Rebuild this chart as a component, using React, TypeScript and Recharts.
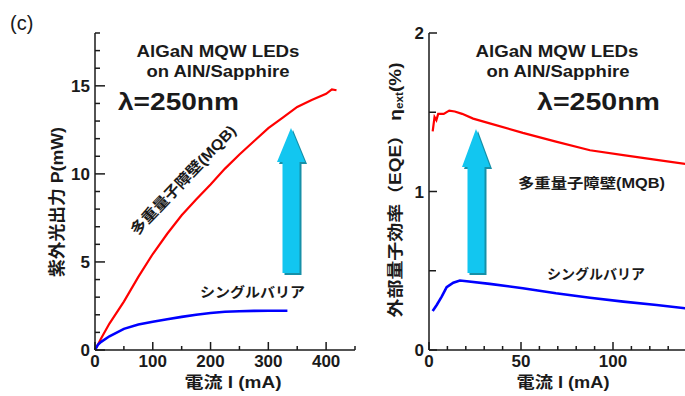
import React from 'react';
import { LineChart, Line, XAxis, YAxis } from 'recharts';

// light output vs current (mA, mW)
const lopMqbCurrent = [0, 5, 10, 25, 50, 75, 100, 125, 150, 175, 200, 225, 250, 275, 300, 325, 350, 375, 400, 410, 418];
const lopMqbPower = [0, 0.3, 0.62, 1.5, 2.75, 4.15, 5.45, 6.6, 7.65, 8.55, 9.4, 10.3, 11.1, 11.85, 12.6, 13.2, 13.8, 14.2, 14.55, 14.8, 14.75];
const lopSbCurrent = [0, 5, 10, 25, 50, 75, 100, 125, 150, 175, 200, 225, 250, 275, 300, 333];
const lopSbPower = [0, 0.3, 0.45, 0.78, 1.2, 1.45, 1.6, 1.75, 1.88, 2.0, 2.1, 2.17, 2.2, 2.22, 2.23, 2.23];

// external quantum efficiency vs current (mA, %)
const eqeMqbCurrent = [2, 3, 4, 5, 8, 11, 14, 18, 24, 33, 51, 69, 87.5, 105.6, 123.7, 142];
const eqeMqb = [1.38, 1.47, 1.45, 1.49, 1.49, 1.51, 1.505, 1.49, 1.46, 1.43, 1.37, 1.315, 1.26, 1.23, 1.2, 1.17];
const eqeSbCurrent = [2, 4.2, 6.9, 9.6, 13.2, 16.8, 20.5, 33, 51, 69, 87.5, 105.6, 123.7, 142];
const eqeSb = [0.246, 0.284, 0.337, 0.396, 0.425, 0.438, 0.434, 0.417, 0.39, 0.358, 0.33, 0.305, 0.284, 0.26];

const lopXTicks = [0, 50, 100, 150, 200, 250, 300, 350, 400, 450];
const lopYTicks = Array.from({ length: 19 }, (_, i) => i);
const eqeXTicks = Array.from({ length: 16 }, (_, i) => i * 10);
const eqeYTicks = [0, 0.5, 1, 1.5, 2];

const zip = (xs: number[], ys: number[]) => xs.map((x, i) => ({ x, y: ys[i] }));

const FONT = '"Liberation Sans", Arial, "Noto Sans CJK JP", sans-serif';
const INK = '#1a1a1a';

type Side = 'bottom' | 'top' | 'left' | 'right';

function makeTick(side: Side, isMajor: (v: number) => boolean, label: (v: number) => string, majorLen: number, minorLen: number) {
  return (props: any) => {
    const { x, y, payload } = props;
    const v = payload.value;
    const len = isMajor(v) ? majorLen : minorLen;
    const txt = label(v);
    const st = { stroke: INK, strokeWidth: 1.5 };
    if (side === 'bottom') {
      return (
        <g>
          <line x1={x} y1={y} x2={x} y2={y - len} {...st} />
          {txt && <text x={x} y={y + 17} textAnchor="middle" fontFamily={FONT} fontWeight="bold" fontSize={17} fill={INK}>{txt}</text>}
        </g>
      );
    }
    if (side === 'top') return <line x1={x} y1={y} x2={x} y2={y + len} {...st} />;
    if (side === 'right') return <line x1={x} y1={y} x2={x - len} y2={y} {...st} />;
    return (
      <g>
        <line x1={x} y1={y} x2={x + len} y2={y} {...st} />
        {txt && <text x={x - 5} y={y + 6} textAnchor="end" fontFamily={FONT} fontWeight="bold" fontSize={17} fill={INK}>{txt}</text>}
      </g>
    );
  };
}

const none = () => '';
const axisLine = { stroke: INK, strokeWidth: 1.5 };

function Arrow({ cx, tip, neck, bottom }: { cx: number; tip: number; neck: number; bottom: number }) {
  const pts = (dx: number, dy: number) =>
    [
      [cx, tip], [cx + 14, neck], [cx + 8.5, neck], [cx + 8.5, bottom],
      [cx - 8.5, bottom], [cx - 8.5, neck], [cx - 14, neck],
    ].map(([a, b]) => `${a + dx},${b + dy}`).join(' ');
  return (
    <g>
      <polygon points={pts(2, 2)} fill="#1690a8" />
      <polygon points={pts(0, 0)} fill="#12c6f0" />
    </g>
  );
}

function LopChart() {
  return (
    <LineChart width={360} height={396} margin={{ top: 33, right: 5, bottom: 0, left: 0 }}>
      <XAxis xAxisId="b" type="number" dataKey="x" domain={[0, 450]} ticks={lopXTicks} interval={0} height={46}
        axisLine={axisLine} tickLine={false} tickSize={0} tickMargin={0}
        tick={makeTick('bottom', v => v % 100 === 0, v => (v % 100 === 0 && v < 450 ? String(v) : ''), 8, 4)} />
      <XAxis xAxisId="t" orientation="top" type="number" dataKey="x" domain={[0, 450]} ticks={lopXTicks} interval={0} height={0}
        axisLine={axisLine} tickLine={false} tickSize={0} tickMargin={0}
        tick={makeTick('top', v => v % 100 === 0, none, 8, 4)} />
      <YAxis yAxisId="l" type="number" domain={[0, 18]} ticks={lopYTicks} interval={0} width={95}
        axisLine={axisLine} tickLine={false} tickSize={0} tickMargin={0}
        tick={makeTick('left', v => v % 5 === 0, v => (v % 5 === 0 ? String(v) : ''), 10, 5)} />
      <YAxis yAxisId="r" orientation="right" type="number" domain={[0, 18]} ticks={lopYTicks} interval={0} width={0}
        axisLine={axisLine} tickLine={false} tickSize={0} tickMargin={0}
        tick={makeTick('right', v => v % 5 === 0, none, 8, 4)} />
      <Line xAxisId="b" yAxisId="l" data={zip(lopMqbCurrent, lopMqbPower)} dataKey="y" type="linear"
        stroke="#ff0000" strokeWidth={2.2} dot={false} isAnimationActive={false} />
      <Line xAxisId="b" yAxisId="l" data={zip(lopSbCurrent, lopSbPower)} dataKey="y" type="linear"
        stroke="#0000ff" strokeWidth={2.6} dot={false} isAnimationActive={false} />
    </LineChart>
  );
}

function EqeChart() {
  return (
    <LineChart width={370} height={396} margin={{ top: 33, right: 5, bottom: 0, left: 0 }}>
      <XAxis xAxisId="b" type="number" dataKey="x" domain={[0, 150]} ticks={eqeXTicks} interval={0} height={46}
        axisLine={axisLine} tickLine={false} tickSize={0} tickMargin={0}
        tick={makeTick('bottom', v => v % 50 === 0, v => (v % 50 === 0 && v < 150 ? String(v) : ''), 8, 4)} />
      <XAxis xAxisId="t" orientation="top" type="number" dataKey="x" domain={[0, 150]} ticks={eqeXTicks} interval={0} height={0}
        axisLine={axisLine} tickLine={false} tickSize={0} tickMargin={0}
        tick={makeTick('top', v => v % 50 === 0, none, 8, 4)} />
      <YAxis yAxisId="l" type="number" domain={[0, 2]} ticks={eqeYTicks} interval={0} width={89}
        axisLine={axisLine} tickLine={false} tickSize={0} tickMargin={0}
        tick={makeTick('left', v => Number.isInteger(v), v => (Number.isInteger(v) ? String(v) : ''), 8, 7)} />
      <YAxis yAxisId="r" orientation="right" type="number" domain={[0, 2]} ticks={eqeYTicks} interval={0} width={0}
        axisLine={axisLine} tickLine={false} tickSize={0} tickMargin={0}
        tick={makeTick('right', v => Number.isInteger(v), none, 8, 7)} />
      <Line xAxisId="b" yAxisId="l" data={zip(eqeMqbCurrent, eqeMqb)} dataKey="y" type="linear"
        stroke="#ff0000" strokeWidth={2.2} dot={false} isAnimationActive={false} />
      <Line xAxisId="b" yAxisId="l" data={zip(eqeSbCurrent, eqeSb)} dataKey="y" type="linear"
        stroke="#0000ff" strokeWidth={2.6} dot={false} isAnimationActive={false} />
    </LineChart>
  );
}

const bold = { fontFamily: FONT, fontWeight: 'bold' as const, fill: INK };

export default function App() {
  return (
    <div style={{ position: 'fixed', left: 0, top: 0, width: 685, height: 396, overflow: 'hidden', background: '#fff' }}>
      <div style={{ position: 'absolute', left: 0, top: 0 }}><LopChart /></div>
      <div style={{ position: 'absolute', left: 340, top: 0 }}><EqeChart /></div>
      <svg width={685} height={396} style={{ position: 'absolute', left: 0, top: 0, pointerEvents: 'none' }}>
        <text x={10} y={30} fontFamily={FONT} fontSize={20} fill={INK}>(c)</text>

        {/* left panel */}
        <text x={218} y={57} textAnchor="middle" fontSize={16} textLength={163} lengthAdjust="spacingAndGlyphs" {...bold}>AlGaN MQW LEDs</text>
        <text x={218} y={77} textAnchor="middle" fontSize={16} textLength={143} lengthAdjust="spacingAndGlyphs" {...bold}>on AlN/Sapphire</text>
        <text x={118} y={110} fontSize={24} textLength={121} lengthAdjust="spacingAndGlyphs" {...bold}>λ=250nm</text>
        <text x={0} y={0} transform="translate(183,180) rotate(-46.4)" textAnchor="middle" dominantBaseline="central"
          fontSize={15} textLength={145} lengthAdjust="spacingAndGlyphs" {...bold}>多重量子障壁(MQB)</text>
        <text x={200} y={297} fontSize={14} textLength={105} lengthAdjust="spacingAndGlyphs" {...bold}>シングルバリア</text>
        <Arrow cx={291} tip={128} neck={162} bottom={273} />
        <text x={0} y={0} transform="translate(57,202) rotate(-90)" textAnchor="middle" dominantBaseline="central"
          fontSize={17} textLength={150} lengthAdjust="spacingAndGlyphs" {...bold}>紫外光出力 P(mW)</text>
        <text x={233} y={388} textAnchor="middle" fontSize={16} textLength={97} lengthAdjust="spacingAndGlyphs" {...bold}>電流 I (mA)</text>

        {/* right panel */}
        <text x={557} y={57} textAnchor="middle" fontSize={16} textLength={163} lengthAdjust="spacingAndGlyphs" {...bold}>AlGaN MQW LEDs</text>
        <text x={558} y={77} textAnchor="middle" fontSize={16} textLength={143} lengthAdjust="spacingAndGlyphs" {...bold}>on AlN/Sapphire</text>
        <text x={537} y={110} fontSize={24} textLength={123} lengthAdjust="spacingAndGlyphs" {...bold}>λ=250nm</text>
        <text x={518} y={188} fontSize={14} textLength={147} lengthAdjust="spacingAndGlyphs" {...bold}>多重量子障壁(MQB)</text>
        <text x={547} y={279} fontSize={14} textLength={98} lengthAdjust="spacingAndGlyphs" {...bold}>シングルバリア</text>
        <Arrow cx={476} tip={129} neck={167} bottom={273} />
        <text x={0} y={0} transform="translate(395,190) rotate(-90)" textAnchor="middle" dominantBaseline="central"
          fontSize={16} textLength={255} lengthAdjust="spacingAndGlyphs" {...bold}>
          外部量子効率（EQE） η<tspan fontSize={10} dy={4}>ext</tspan><tspan dy={-4}>(%)</tspan>
        </text>
        <text x={563} y={388} textAnchor="middle" fontSize={16} textLength={93} lengthAdjust="spacingAndGlyphs" {...bold}>電流 I (mA)</text>
      </svg>
    </div>
  );
}
